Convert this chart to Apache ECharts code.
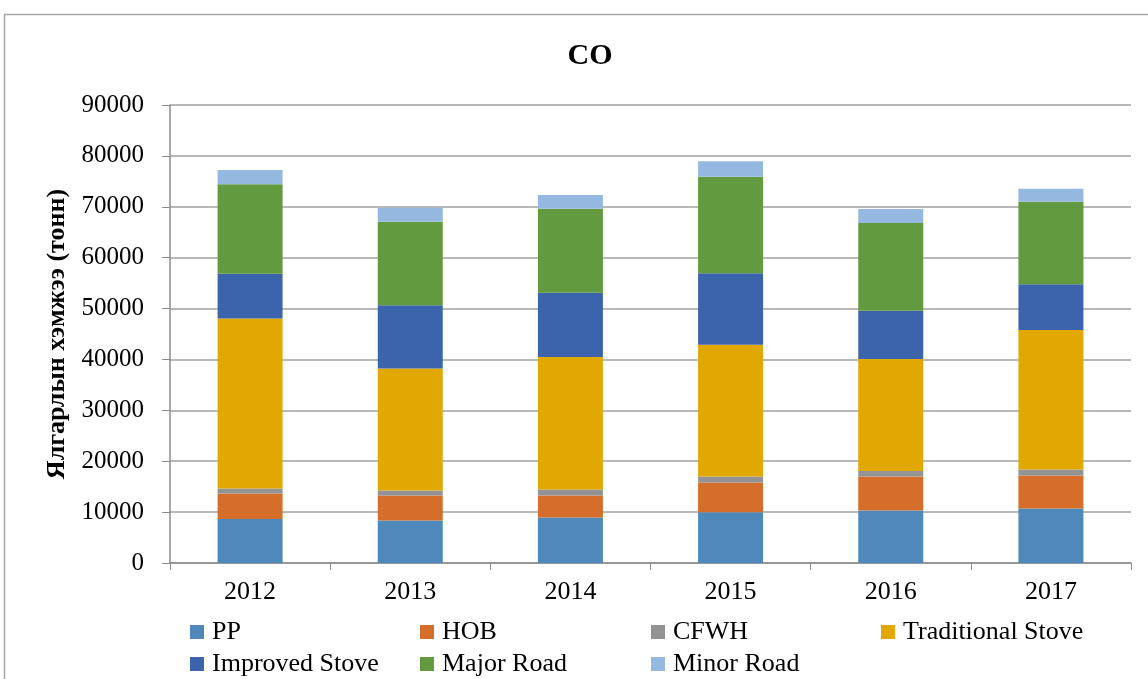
<!DOCTYPE html>
<html>
<head>
<meta charset="utf-8">
<style>
  html, body { margin: 0; padding: 0; background: #fff; }
  #chart { width: 1148px; height: 679px; }
</style>
<script src="https://cdn.jsdelivr.net/npm/echarts@6/dist/echarts.min.js"></script>
</head>
<body>
<div id="chart"></div>
<script>
// categories
var years = ["2012", "2013", "2014", "2015", "2016", "2017"];

// series values (tonnes)
var pp = [8650, 8340, 8930, 9970, 10310, 10700];
var hob = [5000, 4920, 4330, 5840, 6680, 6490];
var cfwh = [980, 980, 1180, 1180, 1110, 1180];
var tradStove = [33440, 24000, 26020, 25890, 21970, 27400];
var improvedStove = [8770, 12390, 12650, 14040, 9500, 8990];
var majorRoad = [17590, 16440, 16520, 19000, 17250, 16250];
var minorRoad = [2810, 2760, 2690, 3030, 2750, 2550];

var seriesNames = ["PP", "HOB", "CFWH", "Traditional Stove", "Improved Stove", "Major Road", "Minor Road"];
var seriesValues = [pp, hob, cfwh, tradStove, improvedStove, majorRoad, minorRoad];
var colors = ["#4f88bb", "#d46e2a", "#939393", "#e0a800", "#3c64ad", "#629a3f", "#95b8e0"];

var font = "'Liberation Serif', 'Times New Roman', serif";

// legend positions (two rows, like the original)
var legendPos = [
  [190, 619], [420, 619], [651, 619], [881, 619],
  [190, 651], [420, 651], [651, 651]
];

var legends = seriesNames.map(function (name, i) {
  return {
    data: [name],
    left: legendPos[i][0],
    top: legendPos[i][1],
    padding: 0,
    icon: "rect",
    itemWidth: 14,
    itemHeight: 14,
    selectedMode: false,
    textStyle: { fontFamily: font, fontSize: 26, color: "#000", padding: [0, 0, 0, 3] }
  };
});

var series = seriesNames.map(function (name, i) {
  return {
    name: name,
    type: "bar",
    stack: "total",
    barWidth: 65,
    data: seriesValues[i],
    itemStyle: { color: colors[i] }
  };
});

var chart = echarts.init(document.getElementById("chart"));
chart.setOption({
  animation: false,
  color: colors,
  title: {
    text: "CO",
    left: 585,
    textAlign: "center",
    top: 36,
    textStyle: { fontFamily: font, fontSize: 30, fontWeight: "bold", color: "#000" }
  },
  graphic: [{
    type: "rect",
    shape: { x: 4.5, y: 14.5, width: 1200, height: 700 },
    style: { fill: "none", stroke: "#a6a6a6", lineWidth: 1.5 },
    silent: true
  }],
  legend: legends,
  grid: { left: 170, right: 17, top: 105, bottom: 116 },
  xAxis: {
    type: "category",
    data: years,
    axisLine: { lineStyle: { color: "#8c8c8c", width: 1.5 } },
    axisTick: { show: true, length: 7, lineStyle: { color: "#8c8c8c" } },
    axisLabel: { fontFamily: font, fontSize: 26, color: "#000", margin: 16 }
  },
  yAxis: {
    type: "value",
    min: 0,
    max: 90000,
    interval: 10000,
    name: "Ялгарлын хэмжээ (тонн)",
    nameLocation: "middle",
    nameGap: 100,
    nameTextStyle: { fontFamily: font, fontSize: 26, fontWeight: "bold", color: "#000" },
    axisLine: { show: true, lineStyle: { color: "#8c8c8c", width: 1.5 } },
    axisTick: { show: true, length: 8, lineStyle: { color: "#8c8c8c" } },
    splitLine: { lineStyle: { color: "#a0a0a0", width: 1.5 } },
    axisLabel: {
      fontFamily: font, fontSize: 25, color: "#000", margin: 26,
      formatter: function (v) { return String(v); }
    }
  },
  series: series
});
</script>
</body>
</html>
